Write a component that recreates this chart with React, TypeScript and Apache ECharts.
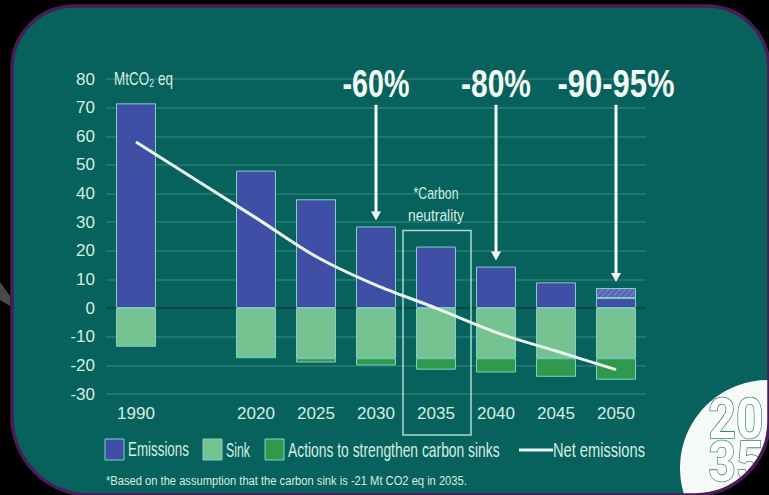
import React, { useEffect, useRef } from "react";
import * as echarts from "echarts";

// ---- data ----
const categories = ["1990", "", "2020", "2025", "2030", "2035", "2040", "2045", "2050"];
const emissions = [71.5, null, 48, 38, 28.5, 21.5, 14.5, 9, 3.5];
const emissionsUncertain = [null, null, null, null, null, null, null, null, 3.5];
const sink = [-13.5, null, -17.5, -17.5, -17.5, -17.5, -17.5, -17.5, -17.5];
const actions = [null, null, null, -1.5, -2.5, -4, -5, -6.5, -7.5];
const netEmissions = [58, null, 31.5, 18, 8, 0, -8.5, -15, -21.5];
const yMin = -30;
const yMax = 80;
const yStep = 10;
const targetCategories = ["2030", "2040", "2050"];
const targetLabels = ["-60%", "-80%", "-90-95%"];
const neutralityCategory = "2035";
const neutralityLabel = ["*Carbon", "neutrality"];
const legendNames = ["Emissions", "Sink", "Actions to strengthen carbon sinks"];
const lineName = "Net emissions";
const unitLabel = "MtCO\u2082 eq";
const footnote = "*Based on the assumption that the carbon sink is -21 Mt CO2 eq in 2035.";
const badgeLines = ["20", "35"];

// ---- style ----
const FONT = "'Liberation Sans', Arial, sans-serif";
const BG = "#07615c";
const TEXT = "#d4efe3";
const WHITE = "#f2faf5";
const BLUE = "#3f4fa5";
const SINK = "#74c28f";
const ACT = "#2f9a4b";
const BORDER = "#82d0c2";
const GRID = "rgba(130,205,190,0.28)";
const ZERO = "#0a3f3b";

let ctx: CanvasRenderingContext2D | null = null;
function measure(text: string, size: number, weight: string, family: string) {
  if (!ctx) ctx = document.createElement("canvas").getContext("2d");
  ctx!.font = `${weight} ${size}px ${family}`;
  return ctx!.measureText(text).width;
}

// condensed text: horizontally scaled to a target width
function condText(
  text: string,
  x: number,
  y: number,
  size: number,
  width: number,
  opts: { weight?: string; align?: string; fill?: string; z?: number; family?: string; stroke?: string; lineWidth?: number } = {}
) {
  const weight = opts.weight || "normal";
  const family = opts.family || FONT;
  const w = measure(text, size, weight, family);
  return {
    type: "text",
    x,
    y,
    z: opts.z ?? 10,
    scaleX: w > 0 ? width / w : 1,
    style: {
      text,
      fill: opts.fill || TEXT,
      fontSize: size,
      fontWeight: weight,
      fontFamily: family,
      align: opts.align || "left",
      verticalAlign: "middle",
      stroke: opts.stroke,
      lineWidth: opts.lineWidth,
    },
  };
}

export default function App() {
  const ref = useRef<HTMLDivElement>(null);
  useEffect(() => {
    document.body.style.margin = "0";
    const chart = echarts.init(ref.current!, null, { renderer: "svg" });
    const nLines = Math.round((yMax - yMin) / yStep) + 1;
    const splitColors: string[] = [];
    for (let k = 0; k < nLines; k++) {
      splitColors.push(yMin + k * yStep === 0 ? ZERO : GRID);
    }
    const barStyle = { borderColor: BORDER, borderWidth: 1 };
    chart.setOption({
      animation: false,
      backgroundColor: "#000",
      textStyle: { fontFamily: FONT },
      grid: { left: 106, right: 123, top: 79, bottom: 101, containLabel: false },
      xAxis: {
        type: "category",
        data: categories,
        axisLine: { show: false },
        axisTick: { show: false },
        axisLabel: { color: TEXT, fontSize: 17, margin: 11, interval: 0, fontFamily: FONT },
      },
      yAxis: {
        type: "value",
        min: yMin,
        max: yMax,
        interval: yStep,
        axisLine: { show: false },
        axisTick: { show: false },
        axisLabel: { color: TEXT, fontSize: 17, margin: 11, fontFamily: FONT },
        splitLine: { lineStyle: { color: splitColors, width: 1.5 } },
      },
      series: [
        {
          name: legendNames[0],
          type: "bar",
          stack: "t",
          barWidth: 40,
          data: emissions,
          itemStyle: { color: BLUE, ...barStyle },
        },
        {
          name: "Emissions (range)",
          type: "bar",
          stack: "t",
          barWidth: 40,
          data: emissionsUncertain,
          itemStyle: {
            color: "#7078c6",
            ...barStyle,
            decal: {
              symbol: "rect",
              symbolSize: 1,
              dashArrayX: [1, 0],
              dashArrayY: [1.5, 2],
              rotation: -Math.PI / 4,
              color: "rgba(60,70,160,0.5)",
            },
          },
        },
        {
          name: legendNames[1],
          type: "bar",
          stack: "t",
          barWidth: 40,
          data: sink,
          itemStyle: { color: SINK, ...barStyle },
        },
        {
          name: legendNames[2],
          type: "bar",
          stack: "t",
          barWidth: 40,
          data: actions,
          itemStyle: { color: ACT, ...barStyle },
        },
        {
          name: lineName,
          type: "line",
          data: netEmissions,
          connectNulls: true,
          smooth: 0.3,
          symbol: "none",
          z: 5,
          lineStyle: { color: "#eaf6ef", width: 3 },
          itemStyle: { color: "#eaf6ef" },
        },
      ],
    });

    const px = (i: number, v: number) =>
      chart.convertToPixel({ gridIndex: 0 }, [i, v]) as number[];
    const els: any[] = [];
    // frame
    els.push({
      type: "rect",
      z: -1,
      shape: { x: 12, y: 6, width: 757, height: 489, r: [62, 62, 74, 78] },
      style: { fill: BG },
    });
    // small grey decoration outside the frame
    els.push({
      type: "polygon",
      z: -2,
      shape: { points: [[0, 282], [10, 296], [10, 306], [0, 300]] },
      style: { fill: "#4a4a4a" },
    });
    // unit label
    const top80 = px(0, yMax);
    els.push(condText(unitLabel, 114, top80[1], 18, 59));
    // targets
    const targetWidths = [67, 70, 117];
    targetCategories.forEach((c, k) => {
      const i = categories.indexOf(c);
      const topVal = (emissions[i] || 0) + (emissionsUncertain[i] || 0);
      const start = px(i, 71);
      const end = px(i, topVal);
      const tipY = end[1] - 6;
      els.push(condText(targetLabels[k], start[0], 84, 38, targetWidths[k], { weight: "bold", align: "center", fill: WHITE }));
      els.push({
        type: "line",
        z: 10,
        shape: { x1: start[0], y1: start[1], x2: start[0], y2: tipY - 6 },
        style: { stroke: WHITE, lineWidth: 3 },
      });
      els.push({
        type: "polygon",
        z: 10,
        shape: { points: [[start[0] - 5, tipY - 9], [start[0] + 5, tipY - 9], [start[0], tipY]] },
        style: { fill: WHITE },
      });
    });
    // carbon neutrality box
    const ni = categories.indexOf(neutralityCategory);
    const nTop = px(ni, emissions[ni] as number);
    const nBottom = px(ni, yMin);
    els.push({
      type: "rect",
      z: 1,
      shape: { x: nTop[0] - 33, y: nTop[1] - 16, width: 68, height: nBottom[1] + 41 - (nTop[1] - 16) },
      style: { fill: "none", stroke: "#a6dccd", lineWidth: 1.5 },
    });
    const nWidths = [45, 56];
    neutralityLabel.forEach((t, k) => {
      els.push(condText(t, nTop[0], nTop[1] - 53 + k * 22, 16.5, nWidths[k], { align: "center" }));
    });
    // legend (custom)
    const legY = 439;
    const legSquares = [105, 203, 265];
    const legColors = [BLUE, SINK, ACT];
    const legTextX = [128, 226, 288];
    const legTextW = [61, 24, 212];
    legendNames.forEach((n, k) => {
      els.push({
        type: "rect",
        z: 10,
        shape: { x: legSquares[k], y: legY, width: 19, height: 21 },
        style: { fill: legColors[k], stroke: BORDER, lineWidth: 1 },
      });
      els.push(condText(n, legTextX[k], legY + 11, 20, legTextW[k]));
    });
    els.push({
      type: "line",
      z: 10,
      shape: { x1: 519, y1: legY + 11, x2: 553, y2: legY + 11 },
      style: { stroke: "#eaf6ef", lineWidth: 3 },
    });
    els.push(condText(lineName, 553, legY + 11, 20, 92));
    // footnote
    els.push(condText(footnote, 106, 481, 13.5, 361));
    // badge
    els.push({
      type: "circle",
      z: 50,
      shape: { cx: 768, cy: 468, r: 88 },
      style: { fill: "#f7fbf8" },
    });
    badgeLines.forEach((t, k) => {
      els.push(
        condText(t, 736, 419 + k * 43, 55, 55, {
          z: 51,
          weight: "bold",
          align: "center",
          family: "Roboto, sans-serif",
          fill: "#ffffff",
          stroke: "#3a8375",
          lineWidth: 1.6,
        })
      );
    });
    echarts.graphic.registerShape(
      "cornerMask",
      echarts.graphic.extendPath("M 769 421 L 772 421 L 772 498 L 695 498 L 695 495 A 74 74 0 0 0 769 421 Z", {})
    );
    els.push({ type: "cornerMask", z: 52, x: 0, y: 0, style: { fill: "#000" } });
    els.push({
      type: "rect",
      z: 53,
      shape: { x: 12, y: 6, width: 757, height: 489, r: [62, 62, 74, 78] },
      style: { fill: "none", stroke: "#4a1b58", lineWidth: 3.5 },
    });
    chart.setOption({ graphic: { elements: els } });
    return () => chart.dispose();
  }, []);
  return <div ref={ref} style={{ width: 769, height: 495 }} />;
}
